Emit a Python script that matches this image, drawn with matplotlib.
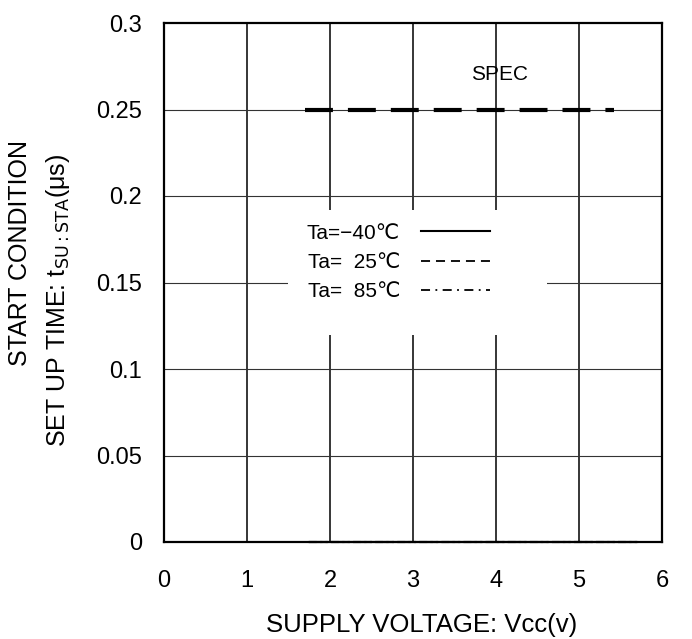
import matplotlib
matplotlib.use('Agg')
import matplotlib.pyplot as plt
from matplotlib.lines import Line2D
from matplotlib.patches import Rectangle

plt.rcParams['font.family'] = ['Liberation Sans', 'DejaVu Sans']

# measured data (start condition set up time, all at zero)
vcc = [1.75, 2.0, 2.5, 3.0, 3.5, 4.0, 4.5, 5.0, 5.5, 5.7]
t_m40 = [0, 0, 0, 0, 0, 0, 0, 0, 0, 0]
t_25 = [0, 0, 0, 0, 0, 0, 0, 0, 0, 0]
t_85 = [0, 0, 0, 0, 0, 0, 0, 0, 0, 0]

# spec limit
spec_vcc = [1.7, 5.42]
spec_t = [0.25, 0.25]

x_ticks = [0, 1, 2, 3, 4, 5, 6]
y_ticks = [0, 0.05, 0.1, 0.15, 0.2, 0.25, 0.3]
y_labels = ['0', '0.05', '0.1', '0.15', '0.2', '0.25', '0.3']
legend_labels = ['Ta=\u221240\u2103', 'Ta=\u200725\u2103', 'Ta=\u200785\u2103']

W, H = 692, 639
fig = plt.figure(figsize=(W / 100, H / 100), dpi=100)
ax = fig.add_axes([164 / W, 1 - 542 / H, 498 / W, 519 / H])

ax.set_xlim(0, 6)
ax.set_ylim(0, 0.3)
ax.set_xticks(x_ticks)
ax.set_yticks(y_ticks)
ax.set_yticklabels(y_labels)
ax.tick_params(length=0, labelsize=17)
ax.tick_params(axis='x', pad=20)
ax.tick_params(axis='y', pad=16)

for s in ax.spines.values():
    s.set_linewidth(1.6)

# grid
for xv in x_ticks[1:-1]:
    ax.axvline(xv, color='black', lw=1.1, zorder=1)
for yv in y_ticks[1:-1]:
    ax.axhline(yv, color='#333333', lw=0.8, zorder=1)

# data lines
ax.plot(vcc, t_m40, color='black', lw=1.5, ls='-', clip_on=False, zorder=4)
ax.plot(vcc, t_25, color='black', lw=1.5, ls='--', clip_on=False, zorder=4)
ax.plot(vcc, t_85, color='black', lw=1.5, ls='-.', clip_on=False, zorder=4)

# spec
ax.plot(spec_vcc, spec_t, color='black', lw=3, ls=(0, (6.7, 3.6)), zorder=5)
ax.text(4.04, 0.2705, 'SPEC', ha='center', va='center', fontsize=15)

# legend area (white block over grid)
ax.add_patch(Rectangle((1.49, 0.1197), 3.12, 0.0722, facecolor='white',
                       edgecolor='none', zorder=2))
handles = [Line2D([], [], color='black', lw=1.5, ls='-'),
           Line2D([], [], color='black', lw=1.3, ls=(0, (5, 3.3))),
           Line2D([], [], color='black', lw=1.3, ls=(0, (5, 3, 1, 3)))]
leg = ax.legend(handles, legend_labels, loc='upper left',
                bbox_to_anchor=(1.52, 0.1937), bbox_transform=ax.transData,
                frameon=False, markerfirst=False, fontsize=15,
                handlelength=3.3, handletextpad=1.0, labelspacing=0.5,
                borderpad=0.3)
leg.set_zorder(3)

fig.text(422 / W, 1 - 632 / H, 'SUPPLY VOLTAGE: Vcc(v)', fontsize=18.5,
         ha='center', va='baseline')
fig.text(20 / W, 1 - 140 / H, 'START CONDITION', fontsize=18,
         rotation=90, ha='center', va='top')
fig.text(58 / W, 1 - 300 / H, 'SET UP TIME: t$_{\\mathrm{SU:STA}}$(\u03bcs)',
         fontsize=18, rotation=90, ha='center', va='center')

fig.savefig('out.png', dpi=100)
